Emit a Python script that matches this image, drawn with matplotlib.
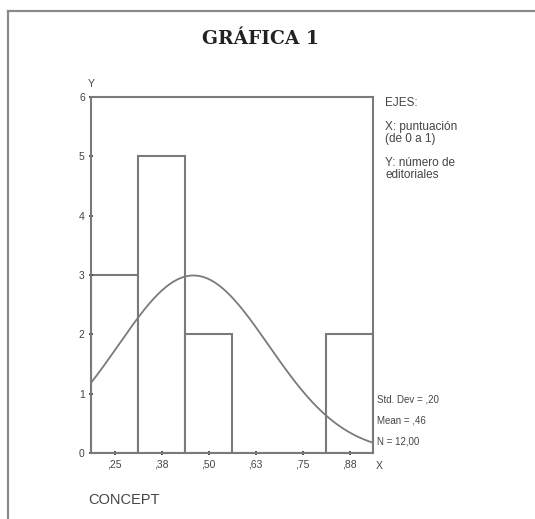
import numpy as np
import matplotlib.pyplot as plt
from matplotlib.lines import Line2D

# histogram data (SPSS style)
bin_centers = [0.25, 0.375, 0.5, 0.625, 0.75, 0.875]
counts = [3, 5, 2, 0, 0, 2]
tick_labels = [",25", ",38", ",50", ",63", ",75", ",88"]
bin_width = 0.125
mean_val = 0.46
std_val = 0.20
n_val = 12
axis_notes = ["EJES:", "X: puntuación\n(de 0 a 1)", "Y: número de\neditoriales"]
stat_notes = ["Std. Dev = ,20", "Mean = ,46", "N = 12,00"]

plt.rcParams['font.family'] = ['Liberation Sans', 'DejaVu Sans']

W, H = 535, 519
fig = plt.figure(figsize=(W / 100, H / 100), dpi=100)
fig.patch.set_facecolor("white")

gray = "#7a7a7a"
txt = "#444444"

# outer frame (top + left only)
fig.add_artist(Line2D([8 / W, 1], [1 - 11 / H, 1 - 11 / H], color="#8a8a8a", lw=1.6))
fig.add_artist(Line2D([8 / W, 8 / W], [0, 1 - 11 / H], color="#8a8a8a", lw=1.6))

fig.text(260 / W, 1 - 39 / H, "GRÁFICA 1", ha="center", va="center",
         fontsize=13.5, fontweight="bold", family="DejaVu Serif", color="#222222")

ax = fig.add_axes([91 / W, (H - 453) / H, (373 - 91) / W, (453 - 97) / H])
ax.bar(bin_centers, counts, width=bin_width, facecolor="white", edgecolor=gray, lw=1.5)

# fitted normal curve
lo = bin_centers[0] - bin_width / 2
hi = bin_centers[-1] + bin_width / 2
xs = np.linspace(lo, hi, 200)
ys = n_val * bin_width / (std_val * np.sqrt(2 * np.pi)) * np.exp(-0.5 * ((xs - mean_val) / std_val) ** 2)
ax.plot(xs, ys, color=gray, lw=1.3)

ax.set_xlim(lo, hi)
ax.set_ylim(0, 6)
for s in ax.spines.values():
    s.set_color(gray)
    s.set_linewidth(1.5)
ax.set_yticks(range(7))
ax.set_xticks(bin_centers)
ax.set_xticklabels(tick_labels)
ax.tick_params(axis="both", colors="#333333", labelcolor=txt, labelsize=7.5,
               length=3, width=1.2, direction="inout", pad=3)
ax.tick_params(axis="x", pad=3)

fs = 8.5
fig.text(91 / W, 1 - 84 / H, "Y", ha="center", va="center", fontsize=7.5, color=txt)
fig.text(376 / W, 1 - 466 / H, "X", ha="left", va="center", fontsize=7.5, color=txt)

fig.text(385 / W, 1 - 103 / H, axis_notes[0], ha="left", va="center", fontsize=fs, color=txt)
fig.text(385 / W, 1 - 133 / H, axis_notes[1], ha="left", va="center", fontsize=fs, color=txt,
         linespacing=0.95)
fig.text(385 / W, 1 - 169 / H, axis_notes[2], ha="left", va="center", fontsize=fs, color=txt,
         linespacing=0.95)

for i, s in enumerate(stat_notes):
    fig.text(377 / W, 1 - (400 + 20.5 * i) / H, s, ha="left", va="center", fontsize=7, color=txt)

fig.text(88 / W, 1 - 500 / H, "CONCEPT", ha="left", va="center", fontsize=10.5, color=txt)

fig.savefig("out.png", dpi=100)
